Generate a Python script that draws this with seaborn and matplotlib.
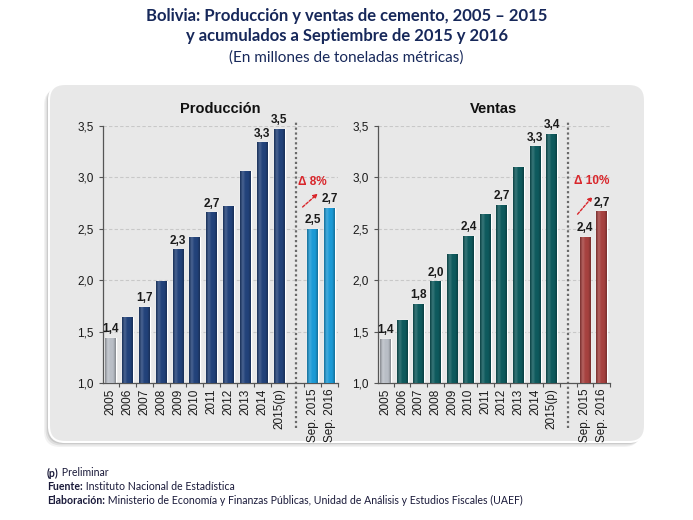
import numpy as np
import pandas as pd
import seaborn as sns
import matplotlib.pyplot as plt
from matplotlib.patches import FancyBboxPatch
from matplotlib.colors import LinearSegmentedColormap, to_rgb
from matplotlib.ticker import FuncFormatter, FixedLocator
from matplotlib.transforms import IdentityTransform
from matplotlib.text import Annotation

# DATA (millones de toneladas métricas)
years = ["2005", "2006", "2007", "2008", "2009", "2010", "2011", "2012",
         "2013", "2014", "2015(p)"]
sep_labels = ["Sep. 2015", "Sep. 2016"]
prod_years = [1.44, 1.64, 1.74, 1.99, 2.30, 2.42, 2.66, 2.72, 3.06, 3.34, 3.47]
prod_sep = [2.50, 2.70]
vent_years = [1.43, 1.61, 1.77, 1.99, 2.25, 2.43, 2.64, 2.73, 3.10, 3.30, 3.42]
vent_sep = [2.42, 2.67]
# which bars carry a value label
prod_labeled = ["2005", "2007", "2009", "2011", "2014", "2015(p)", "Sep. 2015", "Sep. 2016"]
vent_labeled = ["2005", "2007", "2008", "2010", "2012", "2014", "2015(p)", "Sep. 2015", "Sep. 2016"]
prod_delta = "Δ 8%"
vent_delta = "Δ 10%"

order = years + [" "] + sep_labels
Y_MIN, Y_MAX = 1.0, 3.5

# COLORS
silver = "#B9BEC6"
navy = "#22427A"
light_blue = "#1C9AD6"
teal = "#0E5A5D"
brick = "#A6413F"

sns.set_style("white")
plt.rcParams["font.family"] = ["Liberation Sans", "DejaVu Sans"]

fig = plt.figure(figsize=(6.93, 5.20), dpi=100)

# gray rounded panel with shadow (pixel coords, origin bottom-left)
for k, a in enumerate([0.05, 0.07, 0.10]):
    off = 5 - k * 1.5
    fig.patches.append(FancyBboxPatch((49 - off, 78 - off), 596, 358,
                                      boxstyle="round,pad=0,rounding_size=16",
                                      transform=IdentityTransform(), facecolor="black",
                                      edgecolor="none", alpha=a, zorder=-5))
fig.patches.append(FancyBboxPatch((49, 78), 596, 358,
                                  boxstyle="round,pad=0,rounding_size=16",
                                  transform=IdentityTransform(), facecolor="#E8E8E8",
                                  edgecolor="#FFFFFF", linewidth=1.5, zorder=-4))


def shade_bars(ax):
    # cylinder-like horizontal shading on each bar
    for p in list(ax.patches):
        x0, y0 = p.get_x(), p.get_y()
        w, h = p.get_width(), p.get_height()
        if not np.isfinite(h) or h <= 0:
            continue
        base = np.array(to_rgb(p.get_facecolor()))
        dark = base * 0.72
        light = np.clip(base + (1 - base) * 0.18, 0, 1)
        cmap = LinearSegmentedColormap.from_list("s", [dark, light, base, base, dark])
        grad = np.linspace(0, 1, 64).reshape(1, -1)
        im = ax.imshow(grad, cmap=cmap, extent=(x0, x0 + w, max(y0, Y_MIN), y0 + h),
                       origin="lower", aspect="auto", zorder=3, interpolation="bilinear")
        im.set_clip_path(p)
    ax.set_xlim(-0.47, 13.5)
    ax.set_ylim(Y_MIN, Y_MAX)


def draw_panel(ax, title, vals_years, vals_sep, main_color, sep_color, labeled, delta, dpos):
    df = pd.DataFrame({"periodo": years + sep_labels,
                       "valor": vals_years + vals_sep})
    pal = {y: main_color for y in years}
    pal["2005"] = silver
    for s in sep_labels:
        pal[s] = sep_color
    sns.barplot(data=df, x="periodo", y="valor", hue="periodo", order=order,
                palette=pal, width=0.65, saturation=1, legend=False, ax=ax,
                zorder=2)
    shade_bars(ax)
    ax.set_facecolor("none")
    ax.set_xlabel("")
    ax.set_ylabel("")

    # value labels
    for i, cat in enumerate(order):
        if cat in labeled:
            v = df.loc[df["periodo"] == cat, "valor"].iloc[0]
            ax.text(i, v + 0.025, f"{v:.1f}".replace(".", ","), ha="center",
                    va="bottom", fontsize=8.5, fontweight="bold", color="#1A1A1A",
                    clip_on=False, zorder=5)

    ax.set_yticks([1.0, 1.5, 2.0, 2.5, 3.0, 3.5])
    ax.yaxis.set_major_formatter(FuncFormatter(lambda v, _: f"{v:.1f}".replace(".", ",")))
    ax.set_xticks(range(len(order)))
    ax.set_xticklabels(order, rotation=90)
    ax.xaxis.set_minor_locator(FixedLocator(np.arange(-0.5, 14, 1.0)))
    ax.tick_params(axis="x", which="major", length=0, pad=4, labelsize=8.5, colors="#1A1A1A")
    ax.tick_params(axis="x", which="minor", length=3, width=0.8, color="#555555", bottom=True)
    ax.tick_params(axis="y", length=3, width=0.8, color="#555555", labelsize=8.5,
                   labelcolor="#1A1A1A", left=True)

    ax.yaxis.grid(True, linestyle=(0, (3, 2)), color="#C8C8C8", linewidth=0.8, zorder=0)
    ax.set_axisbelow(True)
    sns.despine(ax=ax, top=True, right=True)
    for s in ["left", "bottom"]:
        ax.spines[s].set_color("#555555")
        ax.spines[s].set_linewidth(0.9)

    # dotted separator
    ax.axvline(11, ymin=-0.175, ymax=1.015, color="#6A6A6A", linestyle=(0, (1, 1.2)),
               linewidth=1.6, clip_on=False, zorder=1)

    ax.set_title(title, fontsize=10.5, fontweight="bold", color="#111111", pad=9)

    # variation annotation
    tx, ty, ax0, ay0, ax1, ay1 = dpos
    ax.text(tx, ty, delta, ha="center", va="center", fontsize=8.5, fontweight="bold",
            color="#D9262B", clip_on=False)
    ax.annotate("", xy=(ax1, ay1), xytext=(ax0, ay0),
                arrowprops=dict(arrowstyle="-|>", color="#D9262B", linestyle=(0, (2, 1.2)),
                                linewidth=1.0, mutation_scale=6, shrinkA=0, shrinkB=0))


ax1 = fig.add_axes([0.1482, 0.2635, 0.3395, 0.4948], zorder=2)
ax2 = fig.add_axes([0.5450, 0.2635, 0.3352, 0.4948], zorder=2)

draw_panel(ax1, "Producción", prod_years, prod_sep, navy, light_blue, prod_labeled,
           prod_delta, (12.0, 2.95, 11.4, 2.71, 12.3, 2.84))
draw_panel(ax2, "Ventas", vent_years, vent_sep, teal, brick, vent_labeled,
           vent_delta, (12.4, 2.96, 11.55, 2.64, 12.45, 2.81))

# header
title_color = "#17285A"
head_fam = ["Lato", "DejaVu Sans"]
fig.text(0.5, 1 - 16 / 520, "Bolivia: Producción y ventas de cemento, 2005 – 2015",
         ha="center", va="center", fontsize=12, fontweight="bold", color=title_color,
         family=head_fam)
fig.text(0.5, 1 - 36 / 520, "y acumulados a Septiembre de 2015 y 2016",
         ha="center", va="center", fontsize=12, fontweight="bold", color=title_color,
         family=head_fam)
fig.text(0.5, 1 - 58 / 520, "(En millones de toneladas métricas)",
         ha="center", va="center", fontsize=11, color=title_color, family=head_fam)

# footer
foot = [("(p)", " Preliminar"),
        ("Fuente:", " Instituto Nacional de Estadística"),
        ("Elaboración:", " Ministerio de Economía y Finanzas Públicas, Unidad de Análisis y Estudios Fiscales (UAEF)")]
foot_fam = ["Lato", "DejaVu Sans"]
for k, (b, r) in enumerate(foot):
    y = 1 - (473 + k * 13.5) / 520
    tb = fig.text(47 / 693, y, b, ha="left", va="center", fontsize=7.6, fontweight="bold",
                  color="#1A1A3A", family=foot_fam)
    fig.add_artist(Annotation(r, xy=(1, 0.5), xycoords=tb, ha="left", va="center",
                              fontsize=7.6, color="#1A1A3A", family=foot_fam,
                              annotation_clip=False))

fig.savefig("out.png", dpi=100)
